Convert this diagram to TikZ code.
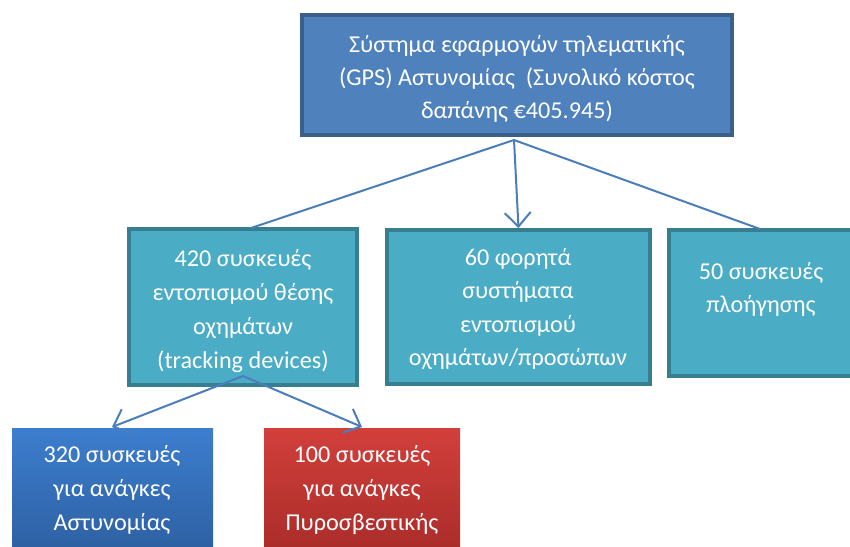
\documentclass[tikz,border=0pt]{standalone}
\usepackage{fontspec}
\setmainfont{Carlito}
\usetikzlibrary{arrows.meta}
\definecolor{topfill}{HTML}{4F81BD}
\definecolor{topedge}{HTML}{3A5F8B}
\definecolor{midfill}{HTML}{4BACC6}
\definecolor{midedge}{HTML}{377F90}
\definecolor{linkc}{HTML}{4A7EBB}
\definecolor{bluetop}{HTML}{3D7ECF}
\definecolor{bluebot}{HTML}{2B5C9C}
\definecolor{redtop}{HTML}{D23F3B}
\definecolor{redbot}{HTML}{A42A27}
\tikzset{
  topbox/.style={draw=topedge, fill=topfill, line width=4pt, inner sep=0pt, rectangle},
  midbox/.style={draw=midedge, fill=midfill, line width=4pt, inner sep=0pt, rectangle},
  lowbox/.style={inner sep=0pt, rectangle},
  txt/.style={text=white, align=center, font=\fontsize{24.2}{34}\selectfont, inner sep=0pt},
  link/.style={draw=linkc, line width=2pt},
  arr/.style={link, -{Straight Barb[length=14pt,width=26pt,line width=2pt]}},
}
\begin{document}
\begin{tikzpicture}[x=1pt,y=-1pt]
\useasboundingbox (0,0) rectangle (850,546);
\clip (0,0) rectangle (850,546);
% boxes
\node[topbox, minimum width=430pt, minimum height=120pt] (top) at (517,75) {};
\node[midbox, minimum width=228pt, minimum height=156pt] (m1) at (243,307) {};
\node[midbox, minimum width=263pt, minimum height=154pt] (m2) at (518.5,307) {};
\node[midbox, minimum width=186pt, minimum height=146pt] (m3) at (762,303) {};
\node[lowbox, top color=bluetop, bottom color=bluebot, minimum width=201pt, minimum height=140pt] (b1) at (112.5,498) {};
\node[lowbox, top color=redtop, bottom color=redbot, minimum width=196pt, minimum height=140pt] (b2) at (362,498) {};
% texts
\node[txt, font=\fontsize{24.2}{33}\selectfont] (ttop) at (517,79) {Σύστημα εφαρμογών τηλεματικής\\(GPS) Αστυνομίας\ \ (Συνολικό κόστος\\δαπάνης €405.945)};
\node[txt] (tm1) at (243,311) {420 συσκευές\\εντοπισμού θέσης\\οχημάτων\\(tracking devices)};
\node[txt, font=\fontsize{24.2}{33.3}\selectfont] (tm2) at (518,309) {60 φορητά\\συστήματα\\εντοπισμού\\οχημάτων/προσώπων};
\node[txt, font=\fontsize{24.2}{33}\selectfont] (tm3) at (761,289.5) {50 συσκευές\\πλοήγησης};
\node[txt] (tb1) at (112,490) {320 συσκευές\\για ανάγκες\\Αστυνομίας};
\node[txt] (tb2) at (362,490) {100 συσκευές\\για ανάγκες\\Πυροσβεστικής};
% connectors
\coordinate (apex) at (514,140);
\coordinate (m1in) at (251,228);
\coordinate (m3in) at (760,229);
\coordinate (apex2) at (243,376);
\coordinate (b1in) at (112,427);
\coordinate (b2in) at (362,427);
\draw[link] (apex) -- (m1in);
\draw[link] (apex) -- (m3in);
\draw[arr] (apex) -- (m2.north);
\draw[arr] (apex2) -- (b1in);
\draw[arr] (apex2) -- (b2in);
\end{tikzpicture}
\end{document}
